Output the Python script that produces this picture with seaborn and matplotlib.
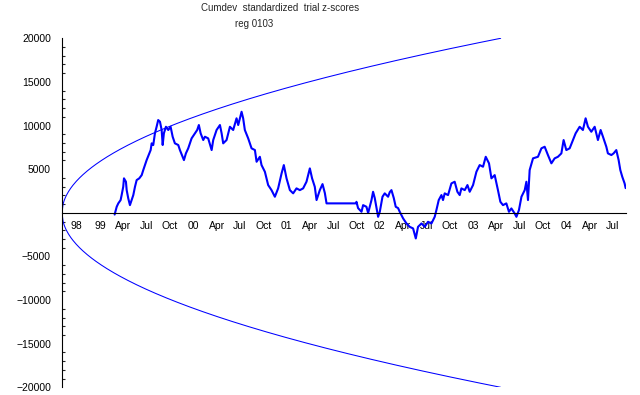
import numpy as np
import pandas as pd
import matplotlib
matplotlib.use("Agg")
import matplotlib.pyplot as plt
import seaborn as sns
from matplotlib.ticker import FixedLocator, MultipleLocator, FuncFormatter

# ---------------- data ----------------
title_line1 = "Cumdev  standardized  trial z-scores"
title_line2 = "reg 0103"

x_tick_pos = [1998.75 + 0.25 * k for k in range(24)]
x_tick_labels = ["98", "99", "Apr", "Jul", "Oct", "00", "Apr", "Jul", "Oct",
                 "01", "Apr", "Jul", "Oct", "02", "Apr", "Jul", "Oct",
                 "03", "Apr", "Jul", "Oct", "04", "Apr", "Jul"]
y_ticks = [-20000, -15000, -10000, -5000, 0, 5000, 10000, 15000, 20000]

# experiment start (origin of envelope) and end of envelope
t_start = 1998.5925
t_envelope_end = 2003.296
envelope_end_value = 20000
x_max = 2004.64

years = [
    1999.157, 1999.160, 1999.179, 1999.196, 1999.221, 1999.232, 1999.249, 1999.257, 1999.278, 1999.286,
    1999.303, 1999.321, 1999.339, 1999.357, 1999.375, 1999.393, 1999.421, 1999.447, 1999.464, 1999.482,
    1999.500, 1999.528, 1999.543, 1999.554, 1999.571, 1999.589, 1999.607, 1999.624, 1999.643, 1999.661,
    1999.672, 1999.685, 1999.707, 1999.732, 1999.757, 1999.779, 1999.803, 1999.839, 1999.857, 1999.886,
    1999.900, 1999.921, 1999.946, 1999.964, 1999.982, 2000.018, 2000.042, 2000.060, 2000.079, 2000.107,
    2000.125, 2000.160, 2000.197, 2000.214, 2000.250, 2000.286, 2000.304, 2000.321, 2000.357, 2000.393,
    2000.428, 2000.464, 2000.482, 2000.518, 2000.535, 2000.553, 2000.589, 2000.625, 2000.661, 2000.679,
    2000.714, 2000.732, 2000.768, 2000.803, 2000.839, 2000.875, 2000.910, 2000.947, 2000.971, 2001.000,
    2001.036, 2001.071, 2001.107, 2001.143, 2001.178, 2001.214, 2001.250, 2001.274, 2001.303, 2001.322,
    2001.357, 2001.386, 2001.411, 2001.429, 2001.743, 2001.750, 2001.767, 2001.804, 2001.821, 2001.857,
    2001.875, 2001.911, 2001.928, 2001.946, 2001.965, 2001.982, 2002.000, 2002.029, 2002.053, 2002.089,
    2002.107, 2002.125, 2002.150, 2002.171, 2002.196, 2002.214, 2002.250, 2002.286, 2002.321, 2002.357,
    2002.386, 2002.410, 2002.447, 2002.482, 2002.517, 2002.554, 2002.589, 2002.607, 2002.632, 2002.661,
    2002.678, 2002.696, 2002.732, 2002.768, 2002.803, 2002.832, 2002.857, 2002.875, 2002.911, 2002.940,
    2002.964, 2003.000, 2003.036, 2003.071, 2003.107, 2003.136, 2003.171, 2003.197, 2003.232, 2003.267,
    2003.293, 2003.321, 2003.357, 2003.385, 2003.411, 2003.446, 2003.465, 2003.492, 2003.519, 2003.554,
    2003.572, 2003.589, 2003.607, 2003.643, 2003.696, 2003.733, 2003.768, 2003.803, 2003.840, 2003.875,
    2003.910, 2003.947, 2003.971, 2004.000, 2004.036, 2004.071, 2004.100, 2004.143, 2004.178, 2004.207,
    2004.232, 2004.268, 2004.304, 2004.339, 2004.368, 2004.393, 2004.429, 2004.446, 2004.483, 2004.507,
    2004.536, 2004.561, 2004.579, 2004.600, 2004.625, 2004.636,
]
cumdev = [
    -200, -70, 690, 1080, 1460, 2030, 2980, 3950, 3560, 2600,
    1650, 880, 1460, 2030, 2980, 3750, 3950, 4320, 4900, 5470,
    6040, 6810, 7190, 7960, 7770, 9110, 9860, 10630, 10440, 9490,
    7770, 9110, 9860, 9490, 9860, 8720, 7960, 7770, 7190, 6420,
    6040, 6810, 7390, 7960, 8530, 9110, 9490, 10060, 9110, 8340,
    8720, 8530, 7190, 8340, 9490, 10060, 9110, 7960, 8340, 9860,
    9490, 10830, 10060, 11580, 10830, 9490, 8530, 7390, 7190, 5850,
    6420, 5470, 4700, 3180, 2600, 1840, 2800, 4520, 5470, 3950,
    2600, 2230, 2800, 2600, 2800, 3560, 5090, 3950, 2980, 1460,
    2600, 3290, 2260, 1080, 1080, 1260, 540, 115, 880, 690,
    -30, 1460, 2410, 1690, 540, -460, 115, 1840, 2230, 1840,
    2370, 2600, 1690, 690, 540, 115, -640, -1220, -1610, -1790,
    -2940, -1610, -1220, -1610, -1030, -1220, -460, 310, 1460, 2030,
    1460, 2230, 2030, 3370, 3560, 2410, 2030, 2800, 2600, 3180,
    2410, 3180, 4700, 5470, 5280, 6420, 5670, 3950, 4320, 2600,
    1260, 880, 1080, 115, 500, -70, -460, 310, 1840, 2600,
    3560, 1460, 4900, 6240, 6420, 7390, 7570, 6620, 5670, 6240,
    6420, 6810, 8340, 7190, 7390, 8340, 9110, 9860, 9490, 10830,
    9860, 9290, 9860, 8340, 9490, 8720, 7570, 6810, 6620, 6810,
    7190, 6040, 4900, 4130, 3370, 2830,
]

# ---------------- frames ----------------
df = pd.DataFrame({"year": years, "cumdev": cumdev})
t_env = np.linspace(t_start, t_envelope_end, 400)
amp = envelope_end_value / np.sqrt(t_envelope_end - t_start)
env_upper = amp * np.sqrt(t_env - t_start)
env_df = pd.DataFrame({"year": np.concatenate([t_env, t_env]),
                       "value": np.concatenate([env_upper, -env_upper]),
                       "side": ["upper"] * len(t_env) + ["lower"] * len(t_env)})

# ---------------- figure ----------------
sns.set_style("white")
plt.rcParams["font.family"] = ["Liberation Sans", "DejaVu Sans"]

fig = plt.figure(figsize=(6.40, 3.95), dpi=100)
ax = fig.add_axes([62 / 640, (395 - 387.3) / 395, (626 - 62) / 640, (387.3 - 38.3) / 395])

blue = "#0000ff"
for side, sub in env_df.groupby("side"):
    sns.lineplot(data=sub, x="year", y="value", ax=ax, color=blue, linewidth=0.75,
                 estimator=None, sort=False, legend=False)
sns.lineplot(data=df, x="year", y="cumdev", ax=ax, color=blue, linewidth=1.5,
             estimator=None, sort=False, legend=False)

ax.set_xlim(t_start, x_max)
ax.set_ylim(-20000, 20000)
ax.set_xlabel("")
ax.set_ylabel("")

for s in ["top", "right"]:
    ax.spines[s].set_visible(False)
ax.spines["bottom"].set_position(("data", 0))
ax.spines["left"].set_color("black")
ax.spines["bottom"].set_color("black")
ax.spines["left"].set_linewidth(0.8)
ax.spines["bottom"].set_linewidth(0.8)

ax.xaxis.set_major_locator(FixedLocator(x_tick_pos))
ax.set_xticklabels(x_tick_labels)
ax.yaxis.set_major_locator(FixedLocator(y_ticks))
ax.yaxis.set_minor_locator(MultipleLocator(1000))
ax.yaxis.set_major_formatter(FuncFormatter(lambda v, p: "" if v == 0 else f"{int(v)}".replace("-", "\u2212")))

ax.tick_params(axis="x", direction="in", length=3, width=0.8, pad=6, labelsize=7.5, colors="black")
ax.tick_params(axis="y", which="major", direction="in", length=4, width=0.8, pad=8, labelsize=7.5, colors="black")
ax.tick_params(axis="y", which="minor", direction="in", length=2.2, width=0.8, left=True)
ax.grid(False)

fig.text(280 / 640, 1 - 8 / 395, title_line1, ha="center", va="center", fontsize=7)
fig.text(254.5 / 640, 1 - 24 / 395, title_line2, ha="center", va="center", fontsize=7)

fig.savefig("out.png", dpi=100, facecolor="white")
